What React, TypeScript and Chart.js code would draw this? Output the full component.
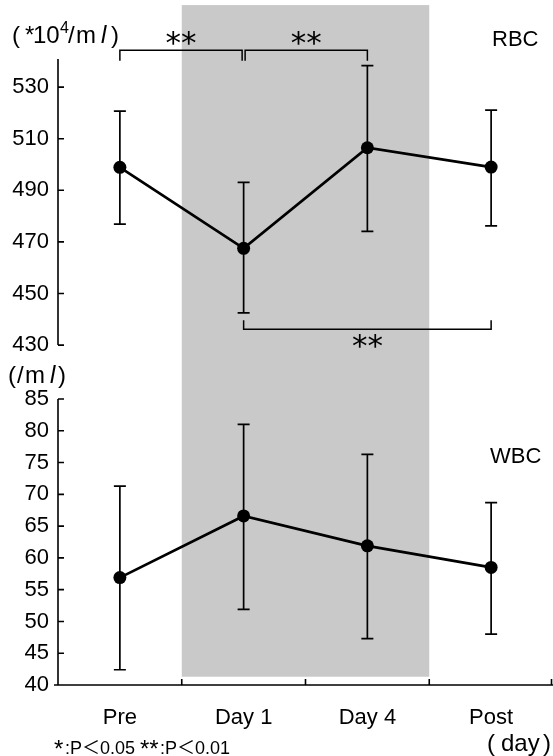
import React, { useEffect, useRef } from 'react';
import { Chart, registerables } from 'chart.js';

Chart.register(...registerables);

// ---------- data ----------
const CATEGORIES = ['Pre', 'Day 1', 'Day 4', 'Post'];

const RBC_MEAN = [498.9, 467.5, 506.5, 499.0];
const RBC_HIGH = [520.7, 493.1, 538.3, 521.1];
const RBC_LOW = [476.9, 442.5, 474.1, 476.2];

const WBC_MEAN = [56.9, 66.6, 61.9, 58.5];
const WBC_HIGH = [71.3, 81.0, 76.3, 68.7];
const WBC_LOW = [42.4, 51.9, 47.3, 48.0];

const RBC_TICKS = [430, 450, 470, 490, 510, 530];
const WBC_TICKS = [40, 45, 50, 55, 60, 65, 70, 75, 80, 85];

// axis ranges (RBC range reaches down into the gap between the panels)
const RBC_AXIS_MIN = 409.1;
const RBC_AXIS_MAX = 540.9;
const WBC_AXIS_MIN = 40;
const WBC_AXIS_MAX = 85;

// significance brackets (category index pairs)
const SIG_TOP = [[0, 1], [1, 2]];
const SIG_BOTTOM = [[1, 3]];
const SIG_TOP_LEVEL = 544.3; // RBC units
const SIG_TOP_END = 540.2;
const SIG_BOTTOM_LEVEL = 436.1;
const SIG_BOTTOM_END = 439.6;

// shaded intervention period (category index range)
const SHADE_FROM = 0.5;
const SHADE_TO = 2.5;
const SHADE_TOP_RBC = 561.8;
const SHADE_BOTTOM_WBC = 41.3;

const FONT = '"Liberation Sans", Arial, Helvetica, sans-serif';

function drawStars(ctx: CanvasRenderingContext2D, text: string, cx: number, cy: number, font: string) {
  ctx.font = font;
  const m = ctx.measureText(text);
  const asc = m.actualBoundingBoxAscent;
  const desc = m.actualBoundingBoxDescent;
  const baseline = cy + (asc - desc) / 2;
  ctx.textAlign = 'center';
  ctx.textBaseline = 'alphabetic';
  ctx.fillText(text, cx, baseline);
}

const decor = {
  id: 'decor',
  beforeDatasetsDraw(chart: any) {
    const { ctx } = chart;
    const x = chart.scales.x;
    const yR = chart.scales.yR;
    const yW = chart.scales.yW;
    ctx.save();
    // shading
    const sx0 = x.getPixelForValue(SHADE_FROM);
    const sx1 = x.getPixelForValue(SHADE_TO);
    const sy0 = yR.getPixelForValue(SHADE_TOP_RBC);
    const sy1 = yW.getPixelForValue(SHADE_BOTTOM_WBC);
    ctx.fillStyle = '#c9c9c9';
    ctx.fillRect(sx0, sy0, sx1 - sx0, sy1 - sy0);

    // axes
    ctx.strokeStyle = '#000';
    ctx.lineWidth = 1.6;
    const left = chart.chartArea.left;
    const tl = 6;
    ctx.beginPath();
    ctx.moveTo(left, yR.getPixelForValue(RBC_AXIS_MAX));
    ctx.lineTo(left, yR.getPixelForValue(RBC_TICKS[0]));
    for (const t of RBC_TICKS) {
      const py = yR.getPixelForValue(t);
      ctx.moveTo(left, py);
      ctx.lineTo(left + tl, py);
    }
    ctx.moveTo(left, yW.getPixelForValue(WBC_AXIS_MAX));
    ctx.lineTo(left, yW.getPixelForValue(WBC_AXIS_MIN));
    for (const t of WBC_TICKS) {
      const py = yW.getPixelForValue(t);
      ctx.moveTo(left, py);
      ctx.lineTo(left + tl, py);
    }
    const by = yW.getPixelForValue(WBC_AXIS_MIN);
    ctx.moveTo(left - 4, by);
    ctx.lineTo(chart.chartArea.right, by);
    for (let i = 0; i < CATEGORIES.length; i++) {
      const px = Math.min(x.getPixelForValue(i + 0.5), chart.chartArea.right - 1.5);
      ctx.moveTo(px, by);
      ctx.lineTo(px, by - tl);
    }
    ctx.stroke();

    // error bars
    ctx.lineWidth = 1.7;
    chart.data.datasets.forEach((ds: any) => {
      const sc = chart.scales[ds.yAxisID];
      ds.data.forEach((_: number, i: number) => {
        const px = x.getPixelForValue(i);
        const hi = sc.getPixelForValue(ds.errHigh[i]);
        const lo = sc.getPixelForValue(ds.errLow[i]);
        ctx.beginPath();
        ctx.moveTo(px, hi);
        ctx.lineTo(px, lo);
        ctx.moveTo(px - 6, hi);
        ctx.lineTo(px + 6, hi);
        ctx.moveTo(px - 6, lo);
        ctx.lineTo(px + 6, lo);
        ctx.stroke();
      });
    });
    ctx.restore();
  },
  afterDraw(chart: any) {
    const { ctx } = chart;
    const x = chart.scales.x;
    const yR = chart.scales.yR;
    ctx.save();
    ctx.strokeStyle = '#000';
    ctx.fillStyle = '#000';
    ctx.lineWidth = 1.5;

    const starFont = '31px "DejaVu Sans", sans-serif';
    // top brackets
    const topY = yR.getPixelForValue(SIG_TOP_LEVEL);
    const topEnd = yR.getPixelForValue(SIG_TOP_END);
    SIG_TOP.forEach(([a, b], k) => {
      const xa = x.getPixelForValue(a) + (k > 0 ? 1.5 : 0);
      const xb = x.getPixelForValue(b) - (k === 0 ? 1.5 : 0);
      ctx.beginPath();
      ctx.moveTo(xa, topEnd);
      ctx.lineTo(xa, topY);
      ctx.lineTo(xb, topY);
      ctx.lineTo(xb, topEnd);
      ctx.stroke();
      drawStars(ctx, '**', (xa + xb) / 2, topY - 12, starFont);
    });
    // bottom bracket
    const botY = yR.getPixelForValue(SIG_BOTTOM_LEVEL);
    const botEnd = yR.getPixelForValue(SIG_BOTTOM_END);
    SIG_BOTTOM.forEach(([a, b]) => {
      const xa = x.getPixelForValue(a);
      const xb = x.getPixelForValue(b);
      ctx.beginPath();
      ctx.moveTo(xa, botEnd);
      ctx.lineTo(xa, botY);
      ctx.lineTo(xb, botY);
      ctx.lineTo(xb, botEnd);
      ctx.stroke();
      drawStars(ctx, '**', (xa + xb) / 2, botY + 12, starFont);
    });

    // texts
    ctx.textAlign = 'left';
    ctx.textBaseline = 'alphabetic';
    const f22 = `22px ${FONT}`;
    const f24 = `24px ${FONT}`;
    ctx.font = f22;
    ctx.fillText('RBC', 492, 46);
    ctx.fillText('WBC', 490, 463);

    // (*10^4/ml)
    ctx.font = f24;
    ctx.fillText('(', 12, 43);
    ctx.fillText('*', 25, 43);
    ctx.fillText('10', 33, 43);
    ctx.font = `16px ${FONT}`;
    ctx.fillText('4', 60, 33);
    ctx.font = f24;
    ctx.fillText('/', 68, 43);
    ctx.fillText('m', 76, 43);
    ctx.font = `italic 24px ${FONT}`;
    ctx.fillText('l', 101, 43);
    ctx.font = f24;
    ctx.fillText(')', 111, 43);

    // (/ml)
    ctx.fillText('(', 8, 383);
    ctx.fillText('/', 17, 383);
    ctx.fillText('m', 25, 383);
    ctx.font = `italic 24px ${FONT}`;
    ctx.fillText('l', 50, 383);
    ctx.font = f24;
    ctx.fillText(')', 58, 383);

    // footnote
    ctx.font = `24px ${FONT}`;
    ctx.fillText('*', 54, 757);
    ctx.font = `18px ${FONT}, "Noto Sans CJK JP"`;
    ctx.fillText(':P＜0.05', 65, 754);
    ctx.font = `24px ${FONT}`;
    ctx.fillText('**', 140, 757);
    ctx.font = `18px ${FONT}, "Noto Sans CJK JP"`;
    ctx.fillText(':P＜0.01', 160, 754);

    // (day)
    ctx.font = f24;
    ctx.fillText('(', 487, 751);
    ctx.fillText('day', 501, 751);
    ctx.fillText(')', 543, 751);
    ctx.restore();
  },
};

export default function App() {
  const ref = useRef<HTMLCanvasElement>(null);
  useEffect(() => {
    Chart.defaults.font.family = FONT;
    Chart.defaults.color = '#000';
    const common = {
      borderColor: '#000',
      backgroundColor: '#000',
      borderWidth: 2.7,
      pointRadius: 6.5,
      pointBackgroundColor: '#000',
      pointBorderWidth: 0,
      tension: 0,
      fill: false,
    };
    const tickFont = { size: 22, family: FONT };
    const chart = new Chart(ref.current as HTMLCanvasElement, {
      type: 'line',
      data: {
        labels: CATEGORIES,
        datasets: [
          { ...common, label: 'RBC', data: RBC_MEAN, yAxisID: 'yR', errLow: RBC_LOW, errHigh: RBC_HIGH } as any,
          { ...common, label: 'WBC', data: WBC_MEAN, yAxisID: 'yW', errLow: WBC_LOW, errHigh: WBC_HIGH } as any,
        ],
      },
      options: {
        responsive: false,
        maintainAspectRatio: false,
        animation: false,
        layout: { autoPadding: false, padding: { top: 59, right: 0, left: 0, bottom: 0 } },
        plugins: { legend: { display: false }, tooltip: { enabled: false } },
        scales: {
          x: {
            type: 'category',
            offset: true,
            grid: { display: false, drawTicks: false, offset: true },
            border: { display: false },
            ticks: { color: '#000', font: tickFont, padding: 20, autoSkip: false, maxRotation: 0 },
            afterFit: (s: any) => {
              s.height = 71;
              s.paddingLeft = 0;
              s.paddingRight = 0;
            },
          },
          yR: {
            type: 'linear',
            position: 'left',
            stack: 'v',
            stackWeight: 340,
            weight: 1,
            min: RBC_AXIS_MIN,
            max: RBC_AXIS_MAX,
            grid: { display: false, drawTicks: false },
            border: { display: false },
            ticks: { color: '#000', font: tickFont, padding: 9, autoSkip: false },
            afterBuildTicks: (s: any) => { s.ticks = RBC_TICKS.map((v) => ({ value: v })); },
            afterFit: (s: any) => { s.width = 58; s.paddingTop = 0; s.paddingBottom = 0; },
          },
          yW: {
            type: 'linear',
            position: 'left',
            stack: 'v',
            stackWeight: 286,
            weight: 0,
            min: WBC_AXIS_MIN,
            max: WBC_AXIS_MAX,
            grid: { display: false, drawTicks: false },
            border: { display: false },
            ticks: { color: '#000', font: tickFont, padding: 9, autoSkip: false },
            afterBuildTicks: (s: any) => { s.ticks = WBC_TICKS.map((v) => ({ value: v })); },
            afterFit: (s: any) => { s.width = 58; s.paddingTop = 0; s.paddingBottom = 0; },
          },
        } as any,
      },
      plugins: [decor],
    });
    return () => chart.destroy();
  }, []);
  return (
    <div style={{ position: 'absolute', left: 0, top: 0, width: 553, height: 756, background: '#fff' }}>
      <canvas ref={ref} width={553} height={756} style={{ display: 'block', width: 553, height: 756 }} />
    </div>
  );
}
